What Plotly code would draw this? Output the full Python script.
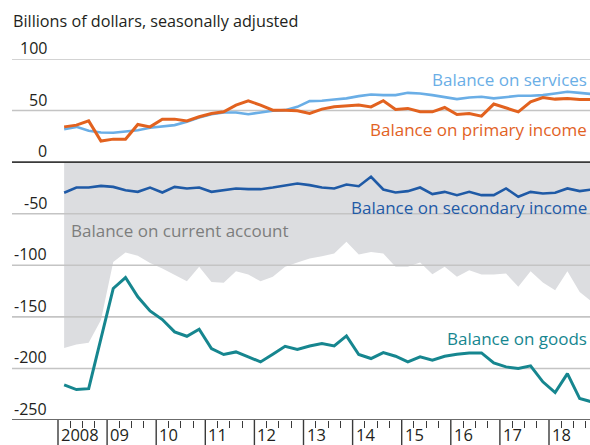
import plotly.graph_objects as go

# ---- data (quarterly, 2008Q1 .. 2018Q4), billions of dollars SA ----
quarters = [f"{y}Q{q}" for y in range(2008, 2019) for q in range(1, 5)]

services = [32, 34.2, 30.4, 28.8, 28.5, 29.5, 31, 33.3, 34.9, 35.9, 39.1, 43.3,
            46.5, 48.2, 48.2, 46.5, 48.2, 49.8, 50.4, 53.6, 59.2, 59.5, 60.8, 61.8,
            64, 65.6, 65, 65, 67.2, 66.6, 65, 63.4, 61.1, 62.7, 63.4, 61.8,
            63.4, 64.3, 64.3, 65, 66.6, 68.2, 67.2, 66]
primary_income = [34.2, 35.9, 40, 20.4, 22.3, 22.3, 36.5, 34.2, 41.7, 41.7, 40, 44,
                  47.2, 48.8, 55.3, 59.5, 55.3, 50.4, 50.4, 49.8, 47.2, 51.4, 53.6, 54.6,
                  55.3, 53.6, 59.5, 51.1, 52.1, 48.8, 48.8, 53, 46.2, 47.2, 44.6, 56.3,
                  52.7, 48.8, 58.5, 62.7, 61.1, 61.8, 60.8, 60.8]
secondary_income = [-29.7, -24.6, -24.6, -23, -24, -27.2, -28.8, -24.6, -29.4, -24, -25.5, -24.6,
                    -28.8, -27.2, -25.5, -26.2, -26.2, -24.6, -23, -20.7, -22.3, -24.6, -25.5, -21.7,
                    -23.3, -14.2, -26.5, -29.4, -28.1, -24.6, -31, -28.8, -32, -28.8, -32, -32,
                    -25.5, -33.6, -28.8, -30.4, -29.7, -25.5, -28.1, -26.5]
current_account = [-180.1, -176.8, -175.2, -153, -96.7, -87.6, -90.8, -97.7, -103.1, -109.6, -115.4, -101.5,
                   -116.1, -117, -105.7, -109, -115.4, -111.2, -101.5, -97.3, -93.4, -91.2, -88.6, -77.3,
                   -89.6, -87, -88.6, -101.5, -101.5, -97.3, -108.6, -101.5, -111.2, -104.8, -109, -109,
                   -108, -120.9, -105.7, -116.7, -124.1, -105.7, -125.8, -135.5]
goods = [-216, -220.5, -219.6, -170, -122.5, -111.9, -130.6, -144.2, -152.6, -164.6, -168.8, -162,
         -180.7, -186.5, -184, -188.8, -193.7, -186.2, -178.5, -181.7, -178.2, -175.9, -178.2, -168.5,
         -186.5, -190.4, -184.6, -188.2, -193.7, -188.8, -192, -188.2, -186.2, -185, -185, -194.7,
         -198.5, -200.1, -197.5, -213, -223.4, -205, -229.2, -232.5]

years = list(range(2008, 2019))
year_labels = ["2008", "09", "10", "11", "12", "13", "14", "15", "16", "17", "18"]
y_ticks = [100, 50, 0, -50, -100, -150, -200, -250]
y_tick_labels = ["100", "50", "0", "-50", "-100", "-150", "-200", "-250"]

# ---- helpers ----
def qx(label):
    y, q = label.split("Q")
    return int(y) + (int(q) - 0.5) / 4

x = [qx(q) for q in quarters]

W, H = 590, 445
ML, MR, MT, MB = 12, 0, 59, 25
PW, PH = W - ML - MR, H - MT - MB
X0 = 2007.0631
X1 = X0 + PW / 49.1
Y0, Y1 = -250, 100

def px(p):
    return (p - ML) / PW

def py(p):
    return (H - MB - p) / PH

FONT = "Open Sans"
C_SERV = "#6aaee6"
C_PRIM = "#e2621f"
C_SEC = "#1f5aa6"
C_GOODS = "#16868f"
C_FILL = "#dcdde0"
C_CA = "#7d7d7d"
C_TXT = "#231f20"
C_GRID = "#c4c4c4"
C_AX = "#3a3a3a"

fig = go.Figure()

# current account shaded area
fig.add_trace(go.Scatter(x=x, y=current_account, mode="lines", fill="tozeroy",
                         fillcolor=C_FILL, line=dict(width=0, color=C_FILL),
                         hoverinfo="skip", showlegend=False))

# gridlines (drawn above fill, below series)
for v in y_ticks:
    if v in (0, -250):
        continue
    fig.add_trace(go.Scatter(x=[X0, X1], y=[v, v], mode="lines",
                             line=dict(color=C_GRID, width=1.6),
                             hoverinfo="skip", showlegend=False))
for v in (0, -250):
    fig.add_trace(go.Scatter(x=[X0, X1], y=[v, v], mode="lines",
                             line=dict(color=C_AX, width=1.6),
                             hoverinfo="skip", showlegend=False))

series = [
    (services, C_SERV, 2.6),
    (primary_income, C_PRIM, 3.0),
    (secondary_income, C_SEC, 2.6),
    (goods, C_GOODS, 3.0),
]
for vals, col, w in series:
    fig.add_trace(go.Scatter(x=x, y=vals, mode="lines",
                             line=dict(color=col, width=w),
                             showlegend=False))

annotations = []
# y tick labels
for v, t in zip(y_ticks, y_tick_labels):
    annotations.append(dict(x=px(49), xref="paper", y=v, yref="y", text=t,
                            xanchor="right", yanchor="bottom", showarrow=False,
                            font=dict(family=FONT, size=16, color=C_TXT),
                            yshift=-2))
# year labels
for yr, t in zip(years, year_labels):
    annotations.append(dict(x=yr, xref="x", y=py(434), yref="paper", text=t,
                            xanchor="left", yanchor="middle", showarrow=False,
                            xshift=1, font=dict(family=FONT, size=16.5, color=C_TXT)))
# title
annotations.append(dict(x=px(11), xref="paper", y=py(21), yref="paper",
                        text="Billions of dollars, seasonally adjusted",
                        xanchor="left", yanchor="middle", showarrow=False,
                        font=dict(family=FONT, size=16.2, color=C_TXT)))
# series labels
lab = [
    ("Balance on services", C_SERV, 589, 79, "right"),
    ("Balance on primary income", C_PRIM, 589, 129, "right"),
    ("Balance on secondary income", C_SEC, 589, 207, "right"),
    ("Balance on current account", C_CA, 69, 230, "left"),
    ("Balance on goods", C_GOODS, 589, 338, "right"),
]
for t, c, xp, yp, anc in lab:
    annotations.append(dict(x=px(xp), xref="paper", y=py(yp), yref="paper", text=t,
                            xanchor=anc, yanchor="middle", showarrow=False,
                            font=dict(family=FONT, size=17, color=c)))

# year separator lines
shapes = []
for yr in years:
    shapes.append(dict(type="line", xref="x", yref="paper", x0=yr, x1=yr,
                       y0=0, y1=-(MB + 2) / PH, line=dict(color=C_AX, width=1.4)))

quarter_ticks = [yr + q / 4 for yr in years for q in range(1, 4)]

fig.update_layout(
    width=W, height=H,
    margin=dict(l=ML, r=MR, t=MT, b=MB, pad=0),
    paper_bgcolor="white", plot_bgcolor="white",
    annotations=annotations, shapes=shapes,
    xaxis=dict(range=[X0, X1], showgrid=False, zeroline=False, showline=False,
               tickvals=quarter_ticks, ticks="outside", ticklen=7, tickwidth=1.3,
               tickcolor=C_AX, showticklabels=False, fixedrange=True),
    yaxis=dict(range=[Y0, Y1], showgrid=False, zeroline=False, showline=False,
               showticklabels=False, ticks="", fixedrange=True),
    showlegend=False,
)

fig.write_html("out.html", config={"displayModeBar": False},
               post_script="document.body.style.margin='0';document.body.style.overflow='hidden';")
